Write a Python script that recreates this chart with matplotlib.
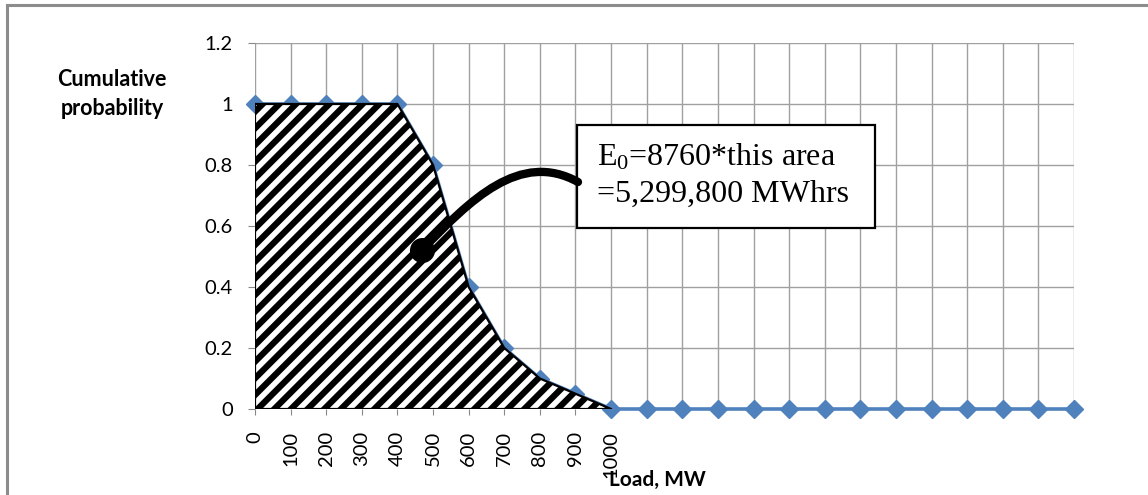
import matplotlib
matplotlib.use('Agg')
import matplotlib.pyplot as plt
from matplotlib.path import Path
from matplotlib.patches import PathPatch, Rectangle
from matplotlib.lines import Line2D

# load steps (MW) and cumulative probability of load
load_mw = [0, 100, 200, 300, 400, 500, 600, 700, 800, 900, 1000,
           1100, 1200, 1300, 1400, 1500, 1600, 1700, 1800, 1900, 2000, 2100, 2200, 2300]
cum_prob = [1, 1, 1, 1, 1, 0.8, 0.4, 0.2, 0.1, 0.05, 0,
            0, 0, 0, 0, 0, 0, 0, 0, 0, 0, 0, 0, 0]
# only the first eleven categories carry a label
tick_labels = [str(v) if v <= 1000 else '' for v in load_mw]
n_area = 11

plt.rcParams['font.family'] = ['Lato', 'DejaVu Sans']
plt.rcParams['hatch.linewidth'] = 4.5
plt.rcParams['mathtext.fontset'] = 'custom'
plt.rcParams['mathtext.rm'] = 'Liberation Serif'
plt.rcParams['mathtext.it'] = 'Liberation Serif:italic'

W, H = 1148, 495
fig = plt.figure(figsize=(W / 100, H / 100), dpi=100)
ax = fig.add_axes([255 / W, 1 - 409 / H, (1074 - 255) / W, (409 - 43) / H])

x = list(range(len(load_mw)))

ax.plot(x, cum_prob, color='#4F81BD', lw=2.6, marker='D', markersize=9.5,
        zorder=2, clip_on=False)

# hatched area under the curve up to 1000 MW
ax.fill_between(x[:n_area], cum_prob[:n_area], 0, facecolor='white',
                edgecolor='black', hatch='//', lw=1.6, zorder=3)

ax.set_xlim(0, len(load_mw) - 1)
ax.set_ylim(0, 1.2)
ax.set_xticks(x)
ax.set_xticklabels(tick_labels, rotation=90, fontsize=14.5)
ax.set_yticks([0, 0.2, 0.4, 0.6, 0.8, 1, 1.2])
ax.set_yticklabels(['0', '0.2', '0.4', '0.6', '0.8', '1', '1.2'], fontsize=14.5)
ax.tick_params(axis='y', length=5, width=0.8, color='#888888', pad=11)
ax.tick_params(axis='x', length=4, width=0.8, color='#888888', pad=12)
ax.grid(True, color='#a0a0a0', lw=1.0, zorder=0)
ax.set_axisbelow(True)
for s in ax.spines.values():
    s.set_visible(False)

fig.text(112 / W, 1 - 94 / H, 'Cumulative\nprobability', ha='center', va='center',
         fontsize=15.5, fontweight='bold', linespacing=1.45)
fig.text(657 / W, 1 - 480 / H, 'Load, MW', ha='center', va='center',
         fontsize=15, fontweight='bold')

# callout box and curved leader
def axfrac(px, py):
    return ((px - 255) / (1074 - 255), (409 - py) / (409 - 43))

bx0, by0 = axfrac(577, 228)
bx1, by1 = axfrac(875, 125)
ax.add_patch(Rectangle((bx0, by0), bx1 - bx0, by1 - by0, transform=ax.transAxes,
                       facecolor='white', edgecolor='black', lw=1.6, zorder=5,
                       clip_on=False))
tx, ty = axfrac(597, 165)
ax.text(tx, ty, r'E$_0$=8760*this area', transform=ax.transAxes, fontsize=23,
        family='Liberation Serif', va='baseline', ha='left', zorder=6)
tx, ty = axfrac(597, 202)
ax.text(tx, ty, '=5,299,800 MWhrs', transform=ax.transAxes, fontsize=23,
        family='Liberation Serif', va='baseline', ha='left', zorder=6)

pts = [axfrac(422, 250), axfrac(470, 200), axfrac(520, 150), axfrac(578, 182)]
leader = Path(pts, [Path.MOVETO, Path.CURVE4, Path.CURVE4, Path.CURVE4])
ax.add_patch(PathPatch(leader, transform=ax.transAxes, facecolor='none',
                       edgecolor='black', lw=6, zorder=5, clip_on=False,
                       capstyle='round'))
dx, dy = axfrac(422, 250)
ax.plot([dx], [dy], 'o', color='black', markersize=17, transform=ax.transAxes,
        zorder=5, clip_on=False)

# outer chart frame (left and top edges)
fig.add_artist(Line2D([7 / W, 7 / W], [0, 1 - 5 / H], color='#8c8c8c', lw=2.2))
fig.add_artist(Line2D([7 / W, 1], [1 - 5 / H, 1 - 5 / H], color='#8c8c8c', lw=2.2))

fig.savefig('out.png', dpi=100)
